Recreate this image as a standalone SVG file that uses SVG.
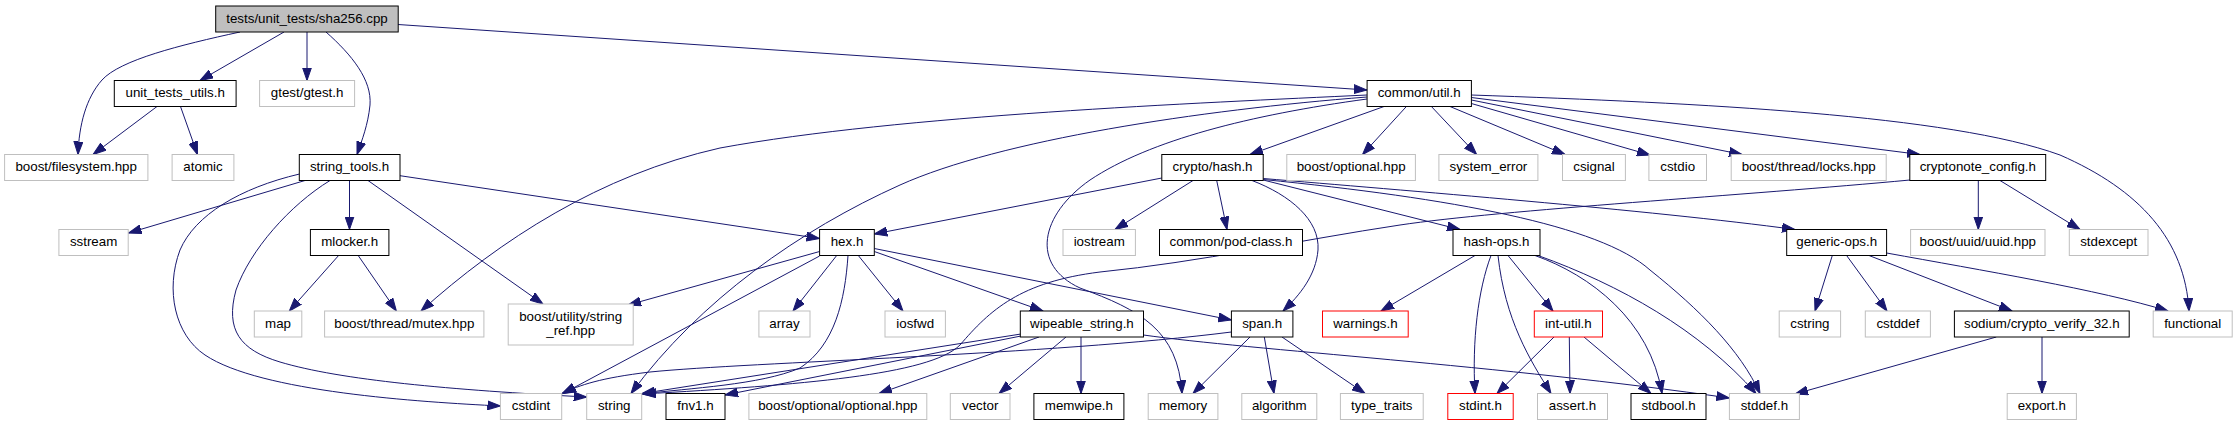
<svg xmlns="http://www.w3.org/2000/svg" width="2237" height="425" viewBox="0 0 2237 425">
<style>
rect{fill:#fff;stroke-width:1}
.g rect{stroke:#bfbfbf}
.b rect{stroke:#000}
.r rect{stroke:#ff0000}
.m rect{fill:#bfbfbf;stroke:#000}
text{font-family:"Liberation Sans",Arial,sans-serif;font-size:13.33px;text-anchor:middle;fill:#000}
#edges path{fill:none;stroke:#191970;stroke-width:1;marker-end:url(#a)}
</style>
<defs>
<marker id="a" markerUnits="userSpaceOnUse" markerWidth="14" markerHeight="10" refX="13" refY="5" orient="auto" viewBox="0 0 14 10">
<path d="M0,0.5 L13,5 L0,9.5 z" fill="#191970" stroke="#191970" stroke-width="1"/>
</marker>
</defs>
<rect x="0" y="0" width="2237" height="425" style="fill:#fff;stroke:none"/>
<g id="edges">
<path d="M240,32 C180,45 120,60 102,80 C86,98 79,125 78,154.5"/>
<path d="M284,32 L200,80.5"/>
<path d="M307,32 L307,80.5"/>
<path d="M326,32 C352,55 372,80 370,105 C368,125 362,140 357,154.5"/>
<path d="M398,24.5 L1367,90"/>
<path d="M157,106.5 L93,154.5"/>
<path d="M180.5,106.5 L197.5,154.5"/>
<path d="M305,180.5 L128.5,233"/>
<path d="M299.5,174 C240,188 195,215 180,250 C165,290 175,335 205,355 C260,392 420,402 500.5,406"/>
<path d="M330,180.5 C290,205 250,250 236,290 C225,330 240,350 280,362 C340,380 450,390 586.7,397"/>
<path d="M349.5,180.5 L349.5,229.5"/>
<path d="M368,180.5 L543,304"/>
<path d="M400,175.7 L819.6,238.5"/>
<path d="M338.6,255.5 L289.3,311"/>
<path d="M358.2,255.5 L396.4,311"/>
<path d="M1367,95 C1200,103 900,115 720,148 C600,175 500,240 421,311"/>
<path d="M1367,97 C1200,110 1000,140 900,185 C800,230 700,300 631,393.5"/>
<path d="M1367,99 C1250,115 1150,140 1090,180 C1040,215 1030,265 1080,288 C1140,310 1178,330 1182,393.5"/>
<path d="M1384,106.5 L1250,154.5"/>
<path d="M1406.4,106.5 L1362.5,154.5"/>
<path d="M1431.4,106.5 L1476.6,154.5"/>
<path d="M1450,106.5 L1565,154.5"/>
<path d="M1471.4,103.5 L1650,155"/>
<path d="M1471.4,100 L1742,154.5"/>
<path d="M1471.4,97.5 L1920,154.5"/>
<path d="M1471.4,95 C1700,103 1950,115 2060,155 C2140,190 2185,240 2189,311"/>
<path d="M1161.8,178 L874.3,234"/>
<path d="M1193,180.5 L1115,229.5"/>
<path d="M1216.7,180.5 L1227,229.5"/>
<path d="M1252,180.5 C1290,195 1320,220 1318,250 C1316,275 1300,295 1283,311"/>
<path d="M1263.2,180 L1460,229.5"/>
<path d="M1263.2,178.5 C1400,190 1650,210 1795,229.5"/>
<path d="M1263.2,179.5 C1450,198 1600,225 1650,270 C1700,310 1740,350 1760,393.5"/>
<path d="M1475,255.5 L1381,311"/>
<path d="M1491,255.5 C1478,290 1472,340 1475,393.5"/>
<path d="M1498,255.5 C1505,320 1530,360 1551,393.5"/>
<path d="M1508,255.5 L1553,311"/>
<path d="M1535,255.5 C1590,275 1650,320 1662,393.5"/>
<path d="M1538,255.5 C1620,285 1700,330 1756,393.5"/>
<path d="M1554,337 L1497,393.5"/>
<path d="M1569.3,337 L1570,393.5"/>
<path d="M1584,337 L1651,393.5"/>
<path d="M1143.5,335 C1250,350 1500,365 1729.4,398"/>
<path d="M1832.3,255.5 L1815,311"/>
<path d="M1846.6,255.5 L1887,311"/>
<path d="M1869,255.5 L2012,311"/>
<path d="M1886.6,253 C1980,270 2100,290 2168,311"/>
<path d="M1996.3,337 L1795,394"/>
<path d="M2042,337 L2042,393.5"/>
<path d="M1978.3,180.5 L1978.3,229.5"/>
<path d="M2000,180.5 L2080,229.5"/>
<path d="M1910,180 C1750,195 1500,210 1400,225 C1300,240 1200,262 1100,272 C1020,282 990,310 960,345 C930,375 800,385 643,394"/>
<path d="M819.6,251.5 L628,305"/>
<path d="M819.6,256 L563,393.5"/>
<path d="M836.7,255.5 L793,311"/>
<path d="M858.3,255.5 L903,311"/>
<path d="M874.3,251.5 L1043,311"/>
<path d="M874.3,248.5 L1231.4,320"/>
<path d="M848,255.5 C845,300 835,345 800,368 C760,385 690,388 642,394"/>
<path d="M1250,337 L1193,393.5"/>
<path d="M1264.3,337 L1274,393.5"/>
<path d="M1282,337 L1365,393.5"/>
<path d="M1231.4,332 C1050,355 750,362 650,372 C600,378 580,385 562,393.5"/>
<path d="M1081,337 L1081,393.5"/>
<path d="M1066,337 L999,393.5"/>
<path d="M1039,337 L879,393.5"/>
<path d="M1021,336 L725,395"/>
<path d="M1021,334 L642,393.5"/>
</g>
<g id="n_sha256" class="m"><rect x="215.7" y="6" width="182.5" height="26"/><text x="307" y="22.7">tests/unit_tests/sha256.cpp</text></g>
<g id="n_unit_tests_utils" class="b"><rect x="114.3" y="80.5" width="121.8" height="26"/><text x="175.2" y="97.2">unit_tests_utils.h</text></g>
<g id="n_gtest" class="g"><rect x="259.6" y="80.5" width="95" height="26"/><text x="307.1" y="97.2">gtest/gtest.h</text></g>
<g id="n_util" class="b"><rect x="1367.1" y="80.5" width="104.3" height="26"/><text x="1419.2" y="97.2">common/util.h</text></g>
<g id="n_filesystem" class="g"><rect x="4.6" y="154.5" width="143.3" height="26"/><text x="76.2" y="171.2">boost/filesystem.hpp</text></g>
<g id="n_atomic" class="g"><rect x="172.1" y="154.5" width="61.8" height="26"/><text x="203" y="171.2">atomic</text></g>
<g id="n_string_tools" class="b"><rect x="299.3" y="154.5" width="100.7" height="26"/><text x="349.6" y="171.2">string_tools.h</text></g>
<g id="n_hash" class="b"><rect x="1161.8" y="154.5" width="101.4" height="26"/><text x="1212.5" y="171.2">crypto/hash.h</text></g>
<g id="n_boost_optional" class="g"><rect x="1286.8" y="154.5" width="128.6" height="26"/><text x="1351.1" y="171.2">boost/optional.hpp</text></g>
<g id="n_system_error" class="g"><rect x="1438.9" y="154.5" width="99" height="26"/><text x="1488.4" y="171.2">system_error</text></g>
<g id="n_csignal" class="g"><rect x="1562.5" y="154.5" width="62.9" height="26"/><text x="1594" y="171.2">csignal</text></g>
<g id="n_cstdio" class="g"><rect x="1648.9" y="154.5" width="57.6" height="26"/><text x="1677.7" y="171.2">cstdio</text></g>
<g id="n_locks" class="g"><rect x="1731.2" y="154.5" width="155" height="26"/><text x="1808.7" y="171.2">boost/thread/locks.hpp</text></g>
<g id="n_cryptonote_config" class="b"><rect x="1909.8" y="154.5" width="135.9" height="26"/><text x="1977.8" y="171.2">cryptonote_config.h</text></g>
<g id="n_sstream" class="g"><rect x="58.9" y="229.5" width="69.3" height="26"/><text x="93.6" y="246.2">sstream</text></g>
<g id="n_mlocker" class="b"><rect x="310.4" y="229.5" width="78.5" height="26"/><text x="349.7" y="246.2">mlocker.h</text></g>
<g id="n_hex" class="b"><rect x="819.6" y="229.5" width="54.7" height="26"/><text x="847" y="246.2">hex.h</text></g>
<g id="n_iostream" class="g"><rect x="1063" y="229.5" width="72.4" height="26"/><text x="1099.2" y="246.2">iostream</text></g>
<g id="n_pod_class" class="b"><rect x="1159.5" y="229.5" width="143" height="26"/><text x="1231" y="246.2">common/pod-class.h</text></g>
<g id="n_hash_ops" class="b"><rect x="1453" y="229.5" width="87" height="26"/><text x="1496.5" y="246.2">hash-ops.h</text></g>
<g id="n_generic_ops" class="b"><rect x="1786.7" y="229.5" width="99.9" height="26"/><text x="1836.7" y="246.2">generic-ops.h</text></g>
<g id="n_uuid" class="g"><rect x="1910.6" y="229.5" width="134.4" height="26"/><text x="1977.8" y="246.2">boost/uuid/uuid.hpp</text></g>
<g id="n_stdexcept" class="g"><rect x="2069.3" y="229.5" width="78.7" height="26"/><text x="2108.7" y="246.2">stdexcept</text></g>
<g id="n_map" class="g"><rect x="254.3" y="311" width="47.5" height="26"/><text x="278" y="327.7">map</text></g>
<g id="n_mutex" class="g"><rect x="324.6" y="311" width="159.3" height="26"/><text x="404.3" y="327.7">boost/thread/mutex.hpp</text></g>
<g id="n_string_ref" class="g"><rect x="508.2" y="304" width="125" height="41"/><text x="570.7" y="321">boost/utility/string</text><text x="570.7" y="334.5">_ref.hpp</text></g>
<g id="n_array" class="g"><rect x="758.9" y="311" width="51.1" height="26"/><text x="784.5" y="327.7">array</text></g>
<g id="n_iosfwd" class="g"><rect x="885" y="311" width="60.4" height="26"/><text x="915.2" y="327.7">iosfwd</text></g>
<g id="n_wipeable_string" class="b"><rect x="1020.3" y="311" width="123.2" height="26"/><text x="1081.9" y="327.7">wipeable_string.h</text></g>
<g id="n_span" class="b"><rect x="1231.4" y="311" width="61.5" height="26"/><text x="1262.2" y="327.7">span.h</text></g>
<g id="n_warnings" class="r"><rect x="1322.5" y="311" width="85.7" height="26"/><text x="1365.4" y="327.7">warnings.h</text></g>
<g id="n_int_util" class="r"><rect x="1534.3" y="311" width="68.2" height="26"/><text x="1568.4" y="327.7">int-util.h</text></g>
<g id="n_cstring" class="g"><rect x="1779.2" y="311" width="61.4" height="26"/><text x="1809.9" y="327.7">cstring</text></g>
<g id="n_cstddef" class="g"><rect x="1865.3" y="311" width="65.1" height="26"/><text x="1897.9" y="327.7">cstddef</text></g>
<g id="n_crypto_verify" class="b"><rect x="1954.4" y="311" width="174.8" height="26"/><text x="2041.8" y="327.7">sodium/crypto_verify_32.h</text></g>
<g id="n_functional" class="g"><rect x="2153.2" y="311" width="79" height="26"/><text x="2192.7" y="327.7">functional</text></g>
<g id="n_cstdint" class="g"><rect x="500.4" y="393.5" width="61.3" height="26"/><text x="531" y="410.2">cstdint</text></g>
<g id="n_string" class="g"><rect x="586.7" y="393.5" width="55" height="26"/><text x="614.2" y="410.2">string</text></g>
<g id="n_fnv1" class="b"><rect x="666" y="393.5" width="59" height="26"/><text x="695.5" y="410.2">fnv1.h</text></g>
<g id="n_optional_optional" class="g"><rect x="748.9" y="393.5" width="177.9" height="26"/><text x="837.8" y="410.2">boost/optional/optional.hpp</text></g>
<g id="n_vector" class="g"><rect x="950.3" y="393.5" width="59.7" height="26"/><text x="980.2" y="410.2">vector</text></g>
<g id="n_memwipe" class="b"><rect x="1033.9" y="393.5" width="90" height="26"/><text x="1078.9" y="410.2">memwipe.h</text></g>
<g id="n_memory" class="g"><rect x="1148.2" y="393.5" width="69.7" height="26"/><text x="1183" y="410.2">memory</text></g>
<g id="n_algorithm" class="g"><rect x="1241.8" y="393.5" width="75" height="26"/><text x="1279.3" y="410.2">algorithm</text></g>
<g id="n_type_traits" class="g"><rect x="1340.4" y="393.5" width="82.8" height="26"/><text x="1381.8" y="410.2">type_traits</text></g>
<g id="n_stdint" class="r"><rect x="1447.8" y="393.5" width="65.4" height="26"/><text x="1480.5" y="410.2">stdint.h</text></g>
<g id="n_assert" class="g"><rect x="1537.5" y="393.5" width="70" height="26"/><text x="1572.5" y="410.2">assert.h</text></g>
<g id="n_stdbool" class="b"><rect x="1631" y="393.5" width="75" height="26"/><text x="1668.5" y="410.2">stdbool.h</text></g>
<g id="n_stddef" class="g"><rect x="1729.4" y="393.5" width="70" height="26"/><text x="1764.4" y="410.2">stddef.h</text></g>
<g id="n_export" class="g"><rect x="2007.2" y="393.5" width="69.2" height="26"/><text x="2041.8" y="410.2">export.h</text></g>
</svg>
